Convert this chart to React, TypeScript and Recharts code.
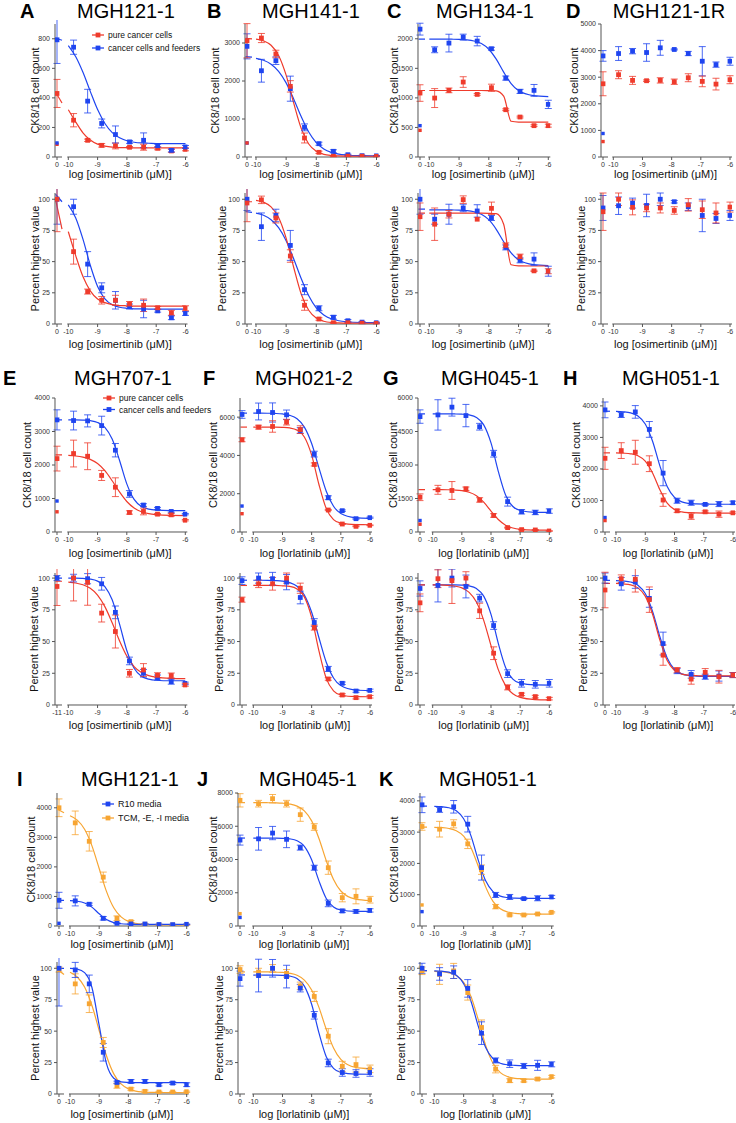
import React from "react";
import { ComposedChart, Line, Scatter, ErrorBar, XAxis, YAxis, ReferenceLine } from "recharts";

const RED = "#ef3b2c";
const BLUE = "#1f45f0";
const ORANGE = "#f7a532";
const FONT = '"Liberation Sans", Arial, Helvetica, sans-serif';

// log10 dose (M) of the 9 drug wells, 3-fold dilutions
const DOSES = [-9.82, -9.34, -8.86, -8.39, -7.91, -7.43, -6.95, -6.48, -6.0];
const FIT_X = [-10, -9.75, -9.5, -9.25, -9, -8.75, -8.5, -8.25, -8, -7.75, -7.5, -7.25, -7, -6.5, -6];
const PCT_TICKS = [0, 25, 50, 75, 100];

// zero arrays: [vehicle value, its error, low control value]

// A MGH121-1
const A_CNT_RED = [249, 113, 79, 75, 66, 66, 59, 41, 52];
const A_CNT_RED_ERR = [45, 8, 12, 20, 5, 20, 10, 10, 10];
const A_CNT_RED_ZERO = [430, 95, 86];
const A_CNT_RED_FIT = [320, 238, 164, 115, 87, 74, 67, 64, 63, 62, 62, 62, 62, 62, 62];
const A_CNT_RED_STUB = [440, 365];
const A_CNT_BLUE = [743, 378, 227, 152, 102, 113, 77, 45, 68];
const A_CNT_BLUE_ERR = [48, 80, 30, 58, 10, 50, 10, 10, 10];
const A_CNT_BLUE_ZERO = [793, 160, 95];
const A_CNT_BLUE_FIT = [754, 680, 573, 444, 321, 227, 165, 130, 110, 100, 95, 93, 91, 90, 90];
const A_CNT_BLUE_STUB = [805, 790];
const A_PCT_RED = [58, 26, 19, 19, 16, 15, 13, 9, 12.6];
const A_PCT_RED_ERR = [10, 2, 3, 4, 2, 5, 1, 2, 2];
const A_PCT_RED_ZERO = [100, 26];
const A_PCT_RED_FIT = [74, 55, 38, 26.6, 20.1, 17.1, 15.5, 14.8, 14.6, 14.4, 14.3, 14.3, 14.3, 14.3, 14.3];
const A_PCT_RED_STUB = [100, 76];
const A_PCT_BLUE = [94, 48, 29, 19, 14, 12, 10.5, 5, 8.4];
const A_PCT_BLUE_ERR = [6, 10, 4, 7, 2, 7, 1, 1.5, 1.5];
const A_PCT_BLUE_ZERO = [100, 20];
const A_PCT_BLUE_FIT = [95.5, 85.2, 68, 47.1, 30.1, 20.2, 15.4, 13.4, 12.6, 12.2, 12.1, 12, 12, 12, 12];
const A_PCT_BLUE_STUB = [104, 98];

// B MGH141-1
const B_CNT_RED = [3131, 2710, 1859, 500, 123, 18, 20, 20, 15];
const B_CNT_RED_ERR = [120, 100, 150, 130, 30, 10, 10, 10, 10];
const B_CNT_RED_ZERO = [3060, 450, 370];
const B_CNT_RED_FIT = [3102, 3056, 2940, 2673, 2154, 1423, 754, 343, 150, 70, 39, 27, 23, 20, 20];
const B_CNT_RED_STUB = [3120, 3110];
const B_CNT_BLUE = [2270, 2535, 1798, 780, 350, 150, 60, 35, 30];
const B_CNT_BLUE_ERR = [300, 100, 330, 90, 40, 40, 15, 10, 10];
const B_CNT_BLUE_ZERO = [2912, 330, 368];
const B_CNT_BLUE_FIT = [2597, 2545, 2441, 2254, 1950, 1527, 1063, 659, 380, 213, 122, 76, 53, 35, 31];
const B_CNT_BLUE_STUB = [2640, 2630];
const B_PCT_RED = [99.5, 85, 54.5, 15, 4, 1, 1, 0.7, 0.5];
const B_PCT_RED_ERR = [3, 4, 5, 4, 1, 0.5, 0.5, 0.5, 0.5];
const B_PCT_RED_ZERO = [97, 15];
const B_PCT_RED_FIT = [99.1, 97.6, 93.9, 85.4, 68.8, 45.5, 24.1, 11, 4.8, 2.2, 1.2, 0.9, 0.7, 0.6, 0.6];
const B_PCT_RED_STUB = [98, 98];
const B_PCT_BLUE = [78, 87, 63, 27.5, 12.6, 5.4, 2.6, 1.5, 1];
const B_PCT_BLUE_ERR = [11, 5, 12, 4, 2, 1.5, 1, 0.5, 0.5];
const B_PCT_BLUE_ZERO = [100, 9];
const B_PCT_BLUE_FIT = [88.9, 87.2, 83.6, 77.2, 66.8, 52.3, 36.4, 22.6, 13, 7.3, 4.2, 2.6, 1.8, 1.2, 1.1];
const B_PCT_BLUE_STUB = [90, 89.5];

// C MGH134-1
const C_CNT_RED = [997, 1127, 1268, 1059, 1172, 800, 676, 530, 530];
const C_CNT_RED_ERR = [160, 40, 90, 15, 60, 15, 15, 15, 25];
const C_CNT_RED_ZERO = [1082, 140, 451];
const C_CNT_RED_FIT = [1125, 1125, 1125, 1125, 1125, 1125, 1125, 1125, 1124, 1120, 1030, 605, 591, 590, 590];
const C_CNT_RED_STUB = [1125, 1125];
const C_CNT_BLUE = [1814, 1927, 2028, 1961, 1831, 1335, 1110, 1127, 890];
const C_CNT_BLUE_ERR = [50, 150, 50, 80, 25, 35, 35, 100, 70];
const C_CNT_BLUE_ZERO = [2163, 100, 530];
const C_CNT_BLUE_FIT = [1995, 1995, 1995, 1993, 1990, 1982, 1963, 1919, 1823, 1655, 1436, 1243, 1123, 1038, 1021];
const C_CNT_BLUE_STUB = [1995, 1995];
const C_PCT_RED = [80, 88, 99.7, 84, 92.7, 63, 54, 42.6, 42.3];
const C_PCT_RED_ERR = [13, 3, 3, 0, 5, 2, 2, 0.5, 2];
const C_PCT_RED_ZERO = [86, 11];
const C_PCT_RED_FIT = [88.8, 88.8, 88.8, 88.8, 88.8, 88.8, 88.8, 88.8, 88.7, 88.4, 80, 47.5, 46.6, 46.5, 46.5];
const C_PCT_RED_STUB = [88.8, 88.8];
const C_PCT_BLUE = [84, 88, 93, 90.6, 85, 61.4, 51, 52, 42.3];
const C_PCT_BLUE_ERR = [4, 8, 3, 5, 2, 2, 2, 5, 4];
const C_PCT_BLUE_ZERO = [100, 12];
const C_PCT_BLUE_FIT = [91.5, 91.5, 91.5, 91.4, 91.3, 90.9, 90, 88, 83.6, 75.9, 65.9, 57, 51.5, 47.6, 46.8];
const C_PCT_BLUE_STUB = [92, 92];

// D MGH121-1R (no fit)
const D_CNT_RED = [3094, 2880, 2867, 2880, 2830, 2980, 2842, 2740, 2905];
const D_CNT_RED_ERR = [150, 150, 30, 100, 100, 150, 200, 220, 150];
const D_CNT_RED_ZERO = [2753, 450, 581];
const D_CNT_BLUE = [3890, 3979, 3928, 4105, 4042, 3890, 3600, 3473, 3600];
const D_CNT_BLUE_ERR = [260, 100, 330, 280, 20, 80, 550, 100, 150];
const D_CNT_BLUE_ZERO = [3800, 200, 884];
const D_PCT_RED = [100, 93.5, 93, 93, 91, 95.5, 91.6, 89, 93.7];
const D_PCT_RED_ERR = [5, 6, 3, 4, 3, 5, 7, 8, 4];
const D_PCT_RED_ZERO = [90, 15];
const D_PCT_BLUE = [94.8, 96.9, 95, 100, 98, 94, 87, 84.6, 87];
const D_PCT_BLUE_ERR = [7, 4, 9, 5, 1, 3, 13, 4, 4];
const D_PCT_BLUE_ZERO = [93, 10];

// E MGH707-1
const E_CNT_RED = [2342, 2261, 1688, 1337, 583, 613, 533, 513, 352];
const E_CNT_RED_ERR = [400, 400, 150, 280, 50, 100, 20, 40, 20];
const E_CNT_RED_ZERO = [2191, 370, 603];
const E_CNT_RED_FIT = [2285, 2269, 2235, 2168, 2043, 1830, 1529, 1196, 910, 716, 604, 546, 517, 495, 491];
const E_CNT_RED_STUB = [2300, 2300];
const E_CNT_BLUE = [3327, 3317, 3176, 2442, 1136, 804, 704, 613, 533];
const E_CNT_BLUE_ERR = [280, 180, 280, 200, 100, 40, 30, 25, 20];
const E_CNT_BLUE_ZERO = [3347, 300, 925];
const E_CNT_BLUE_FIT = [3350, 3349, 3341, 3323, 3271, 3126, 2776, 2142, 1437, 972, 761, 682, 654, 641, 640];
const E_CNT_BLUE_STUB = [3350, 3350];
const E_PCT_RED = [100, 96.6, 72.4, 57.9, 25, 27.6, 23.4, 23.2, 15.8];
const E_PCT_RED_ERR = [18, 18, 7, 13, 3, 5, 2, 2, 1];
const E_PCT_RED_ZERO = [93.4, 15];
const E_PCT_RED_FIT = [96.8, 96.1, 94.7, 91.9, 86.6, 77.5, 64.8, 50.7, 38.6, 30.3, 25.6, 23.1, 21.9, 21, 20.8];
const E_PCT_RED_STUB = [97.5, 97.5];
const E_PCT_BLUE = [100, 99.5, 95.5, 73, 34.7, 25, 21.6, 18.4, 17];
const E_PCT_BLUE_ERR = [3, 4, 5, 5, 3, 3, 2, 2, 1];
const E_PCT_BLUE_ZERO = [100, 2];
const E_PCT_BLUE_FIT = [100, 100, 99.7, 99.2, 97.6, 93.3, 82.9, 63.9, 42.9, 29, 22.7, 20.4, 19.5, 19.1, 19.1];
const E_PCT_BLUE_STUB = [100, 100];

// F MGH021-2
const F_CNT_RED = [5478, 5513, 5739, 5350, 3530, 1148, 417, 296, 350];
const F_CNT_RED_ERR = [100, 300, 150, 200, 80, 30, 20, 20, 20];
const F_CNT_RED_ZERO = [4817, 100, 956];
const F_CNT_RED_FIT = [5480, 5480, 5480, 5480, 5467, 5435, 5322, 4961, 4016, 2481, 1222, 650, 459, 382, 380];
const F_CNT_RED_STUB = [5480, 5480];
const F_CNT_BLUE = [6295, 6243, 6121, 5304, 4069, 1791, 1113, 696, 748];
const F_CNT_BLUE_ERR = [440, 500, 250, 150, 150, 100, 40, 30, 30];
const F_CNT_BLUE_ZERO = [6139, 200, 1356];
const F_CNT_BLUE_FIT = [6210, 6210, 6204, 6193, 6166, 6094, 5912, 5480, 4622, 3350, 2129, 1346, 967, 748, 713];
const F_CNT_BLUE_STUB = [6210, 6210];
const F_PCT_RED = [95.5, 95.5, 100, 92, 61, 20.5, 7.9, 5.8, 6.5];
const F_PCT_RED_ERR = [3, 5, 4, 4, 2, 1, 1, 1, 1];
const F_PCT_RED_ZERO = [83, 2];
const F_PCT_RED_FIT = [94.2, 94.2, 94.2, 94.2, 93.9, 93.4, 91.4, 85.2, 69, 42.6, 21, 11.2, 7.9, 6.6, 6.5];
const F_PCT_RED_STUB = [94.2, 94.2];
const F_PCT_BLUE = [100, 99.5, 96.8, 84.7, 65, 28.4, 17.1, 11, 11.5];
const F_PCT_BLUE_ERR = [4, 5, 6, 5, 3, 2, 1, 1, 1];
const F_PCT_BLUE_ZERO = [98, 3];
const F_PCT_BLUE_FIT = [98.3, 98.3, 98.2, 98, 97.6, 96.4, 93.5, 86.7, 73.1, 53, 33.7, 21.3, 15.3, 11.8, 11.3];
const F_PCT_BLUE_STUB = [98.3, 98.3];

// G MGH045-1
const G_CNT_RED = [1889, 1859, 1934, 1435, 740, 196, 106, 91, 45];
const G_CNT_RED_ERR = [200, 400, 80, 100, 80, 20, 15, 15, 10];
const G_CNT_RED_ZERO = [1556, 150, 348];
const G_CNT_RED_FIT = [1900, 1897, 1892, 1880, 1851, 1780, 1627, 1339, 939, 559, 306, 177, 120, 86, 81];
const G_CNT_RED_STUB = [1900, 1900];
const G_CNT_BLUE = [5243, 5590, 5213, 4714, 3505, 1360, 907, 876, 937];
const G_CNT_BLUE_ERR = [680, 400, 500, 150, 150, 200, 100, 100, 100];
const G_CNT_BLUE_ZERO = [5168, 300, 514];
const G_CNT_BLUE_FIT = [5290, 5290, 5290, 5286, 5275, 5241, 5131, 4796, 3989, 2715, 1653, 1142, 962, 882, 880];
const G_CNT_BLUE_STUB = [5290, 5290];
const G_PCT_RED = [99.5, 98, 100, 74.2, 40.8, 13.9, 8.4, 6.6, 5];
const G_PCT_RED_ERR = [7, 18, 5, 6, 5, 2, 1, 1, 1];
const G_PCT_RED_ZERO = [80.5, 7];
const G_PCT_RED_FIT = [94.7, 94.6, 94.3, 93.7, 92.3, 88.7, 81.1, 66.7, 46.8, 27.9, 15.3, 8.8, 6, 4.3, 4];
const G_PCT_RED_STUB = [94.7, 94.7];
const G_PCT_BLUE = [94.2, 100, 93.4, 84.2, 62.6, 24.7, 17.1, 16.3, 17.1];
const G_PCT_BLUE_ERR = [13, 7, 9, 3, 3, 3, 3, 3, 3];
const G_PCT_BLUE_ZERO = [91.8, 6];
const G_PCT_BLUE_FIT = [94.6, 94.6, 94.6, 94.6, 94.4, 93.8, 91.8, 85.8, 71.4, 48.6, 29.6, 20.4, 17.2, 15.8, 15.7];
const G_PCT_BLUE_STUB = [94.7, 94.7];

// H MGH051-1
const H_CNT_RED = [2582, 2529, 2166, 1014, 672, 501, 640, 566, 608];
const H_CNT_RED_ERR = [250, 380, 250, 200, 50, 100, 30, 100, 30];
const H_CNT_RED_ZERO = [2337, 350, 363];
const H_CNT_RED_FIT = [2510, 2500, 2480, 2419, 2248, 1872, 1339, 918, 713, 637, 612, 604, 601, 600, 600];
const H_CNT_RED_STUB = [2510, 2510];
const H_CNT_BLUE = [3713, 3809, 3254, 1867, 992, 928, 875, 886, 928];
const H_CNT_BLUE_ERR = [80, 200, 250, 400, 80, 80, 30, 80, 50];
const H_CNT_BLUE_ZERO = [3873, 250, 459];
const H_CNT_BLUE_FIT = [3824, 3812, 3778, 3680, 3426, 2880, 2098, 1443, 1097, 956, 906, 889, 883, 880, 880];
const H_CNT_BLUE_STUB = [3830, 3830];
const H_PCT_RED = [99.5, 99, 83, 39.3, 27.5, 20.4, 25.7, 22.3, 23.6];
const H_PCT_RED_ERR = [3, 10, 10, 8, 2, 4, 3, 5, 2];
const H_PCT_RED_ZERO = [90.6, 14];
const H_PCT_RED_FIT = [95.8, 95.4, 94.7, 92.3, 85.8, 71.5, 51.1, 35, 27.2, 24.3, 23.4, 23.1, 22.9, 22.9, 22.9];
const H_PCT_RED_STUB = [95.8, 95.8];
const H_PCT_BLUE = [95.5, 96.9, 84, 48.4, 26.7, 24.1, 22.3, 22.8, 23.6];
const H_PCT_BLUE_ERR = [5, 5, 7, 9, 2, 3, 2, 4, 2];
const H_PCT_BLUE_ZERO = [100, 4];
const H_PCT_BLUE_FIT = [98, 97.7, 96.9, 94.4, 87.8, 73.8, 53.8, 37, 28.1, 24.5, 23.2, 22.8, 22.6, 22.6, 22.6];
const H_PCT_BLUE_STUB = [98.2, 98.2];

// I MGH121-1 media
const I_CNT_BLUE = [850, 736, 261, 91, 68, 68, 50, 45, 57];
const I_CNT_BLUE_ERR = [170, 40, 60, 15, 10, 10, 10, 10, 10];
const I_CNT_BLUE_ZERO = [870, 270, 91];
const I_CNT_BLUE_FIT = [860, 839, 779, 638, 416, 218, 115, 75, 61, 57, 56, 55, 55, 55, 55];
const I_CNT_BLUE_STUB = [870, 868];
const I_CNT_ORANGE = [3490, 2866, 1654, 261, 147, 57, 34, 34, 34];
const I_CNT_ORANGE_ERR = [400, 330, 170, 80, 40, 10, 10, 10, 10];
const I_CNT_ORANGE_ZERO = [4000, 300];
const I_CNT_ORANGE_FIT = [3732, 3584, 3275, 2719, 1945, 1172, 615, 307, 157, 90, 61, 50, 45, 41, 40];
const I_CNT_ORANGE_STUB = [3950, 3830];
const I_PCT_BLUE = [98.7, 87.6, 33.2, 9.2, 10, 10, 7.4, 8.7, 7.4];
const I_PCT_BLUE_ERR = [6, 7, 7, 1, 1.5, 1.5, 1, 1, 1.5];
const I_PCT_BLUE_ZERO = [100, 30];
const I_PCT_BLUE_FIT = [99.9, 99.3, 96.5, 84.9, 54.5, 24.1, 12.5, 9.7, 9.2, 9, 9, 9, 9, 9, 9];
const I_PCT_BLUE_STUB = [100, 100];
const I_PCT_ORANGE = [87.6, 71.8, 41, 6.6, 3.9, 2.1, 1.6, 1.6, 1.8];
const I_PCT_ORANGE_ERR = [8, 7, 4, 2, 1, 1, 0.5, 0.5, 0.5];
const I_PCT_ORANGE_ZERO = [99, 2];
const I_PCT_ORANGE_FIT = [96.9, 93.1, 85.1, 70.6, 50.5, 30.4, 16, 8, 4.1, 2.3, 1.6, 1.3, 1.2, 1.1, 1];
const I_PCT_ORANGE_STUB = [99, 95];

// J MGH045-1 media (R10 = same wells as G blue)
const J_CNT_ORANGE = [7358, 7659, 7358, 6697, 5955, 3509, 1704, 1784, 1580];
const J_CNT_ORANGE_ERR = [200, 250, 200, 400, 200, 400, 250, 450, 200];
const J_CNT_ORANGE_ZERO = [7559, 400, 742];
const J_CNT_ORANGE_FIT = [7420, 7420, 7415, 7406, 7386, 7335, 7213, 6924, 6323, 5267, 3933, 2794, 2104, 1620, 1535];
const J_CNT_ORANGE_STUB = [7420, 7420];
const J_PCT_ORANGE = [97, 100, 96, 86, 77.6, 46, 22, 23.4, 20];
const J_PCT_ORANGE_ERR = [3, 3, 3, 3, 4, 6, 4, 6, 3];
const J_PCT_ORANGE_ZERO = [99, 3];
const J_PCT_ORANGE_FIT = [97.1, 97.1, 97.1, 96.9, 96.7, 96, 94.4, 90.6, 82.8, 68.9, 51.5, 36.6, 27.5, 21.2, 20.1];
const J_PCT_ORANGE_STUB = [97.1, 97.1];

// K MGH051-1 media (R10 = same wells as H blue)
const K_CNT_ORANGE = [3094, 3265, 2625, 1800, 619, 352, 352, 384, 437];
const K_CNT_ORANGE_ERR = [250, 130, 150, 150, 70, 30, 20, 20, 20];
const K_CNT_ORANGE_ZERO = [3180, 120, 672];
const K_CNT_ORANGE_FIT = [3154, 3143, 3115, 3043, 2871, 2504, 1906, 1250, 788, 548, 446, 405, 390, 381, 380];
const K_CNT_ORANGE_STUB = [3160, 3160];
const K_PCT_ORANGE = [95.2, 97.9, 80.7, 52.9, 19.8, 10.6, 10.6, 11.9, 13.8];
const K_PCT_ORANGE_ERR = [8, 6, 6, 6, 3, 1.5, 1, 1, 1];
const K_PCT_ORANGE_ZERO = [98, 3];
const K_PCT_ORANGE_FIT = [97.6, 97.3, 96.4, 94.2, 88.9, 77.5, 59, 38.7, 24.4, 17, 13.8, 12.5, 12.1, 11.8, 11.8];
const K_PCT_ORANGE_STUB = [97.9, 97.9];

type Series = { color: string; y: number[]; err: number[]; zero: number[]; fit?: number[]; stub?: number[] };
type Geo = { axisX: number; x10: number; x6: number };
type Row = { top: number; bottom: number };

const ser = (color: string, y: number[], err: number[], zero: number[], fit?: number[], stub?: number[]): Series =>
  ({ color, y, err, zero, fit, stub });

// layout: pixel positions of y axis, x=-10 and x=-6 per column
const GEO: Record<string, Geo> = {
  A: { axisX: 55, x10: 68.3, x6: 185.5 },
  B: { axisX: 245, x10: 256, x6: 376.5 },
  C: { axisX: 418, x10: 429.3, x6: 548.3 },
  D: { axisX: 601, x10: 613.3, x6: 730 },
  E: { axisX: 55, x10: 68.3, x6: 185.3 },
  F: { axisX: 240, x10: 253.3, x6: 370 },
  G: { axisX: 418, x10: 432.7, x6: 549.3 },
  H: { axisX: 603, x10: 616, x6: 733 },
  I: { axisX: 57, x10: 70, x6: 186.7 },
  J: { axisX: 238, x10: 253.3, x6: 370 },
  K: { axisX: 420, x10: 434.3, x6: 551.7 },
};
const R1C = { top: 24, bottom: 157 };
const R1P = { top: 193, bottom: 324 };
const R2C = { top: 398, bottom: 532 };
const R2P = { top: 573, bottom: 705 };
const R3C = { top: 793, bottom: 926 };
const R3P = { top: 962, bottom: 1094 };

const square = (color: string) => (p: any) => {
  const h = p.payload.small ? 1.7 : 2.4;
  return <rect x={p.cx - h} y={p.cy - h} width={h * 2} height={h * 2} fill={color} />;
};

function Plot({ geo, row, yMax, yTicks, series, zeroLabel = "0" }:
  { geo: Geo; row: Row; yMax: number; yTicks: number[]; series: Series[]; zeroLabel?: string }) {
  const s = (geo.x6 - geo.x10) / 4;
  const right = geo.x6 + 2;
  const toX = (px: number) => -10 + (px - geo.x10) / s;
  const dMin = toX(geo.axisX);
  const dMax = toX(right);
  const zeroX = toX(geo.axisX + 2);
  const YW = 30, MT = 4, MR = 3, XH = 16;
  const plotH = row.bottom - row.top;
  const width = YW + (right - geo.axisX) + MR;
  const height = MT + plotH + XH;
  const fmt = (v: number) => (v < -10.1 ? zeroLabel : String(v));

  return (
    <div style={{ position: "absolute", left: geo.axisX - YW, top: row.top - MT }}>
      <ComposedChart width={width} height={height} margin={{ top: MT, right: MR, bottom: 0, left: 0 }}
        style={{ overflow: "visible" }}>
        <XAxis type="number" dataKey="x" domain={[dMin, dMax]} allowDataOverflow ticks={[zeroX, -10, -9, -8, -7, -6]}
          tickFormatter={fmt} interval={0} axisLine={false} tickSize={3} height={XH}
          tickLine={{ stroke: "#555" }} tick={{ fontSize: 7, fill: "#333", fontFamily: FONT }} />
        <YAxis type="number" dataKey="y" domain={[0, yMax]} allowDataOverflow ticks={yTicks} interval={0} width={YW}
          tickSize={3} axisLine={{ stroke: "#555" }} tickLine={{ stroke: "#555" }}
          tick={{ fontSize: 7, fill: "#333", fontFamily: FONT }} />
        <ReferenceLine segment={[{ x: dMin, y: 0 }, { x: toX(geo.axisX + 7), y: 0 }]} stroke="#555" ifOverflow="visible" />
        <ReferenceLine segment={[{ x: toX(geo.x10 - 1), y: 0 }, { x: dMax, y: 0 }]} stroke="#555" ifOverflow="visible" />
        {series.map((sr, k) => sr.fit && (
          <Line key={"f" + k} data={FIT_X.map((x, i) => ({ x, y: sr.fit![i] }))} dataKey="y" type="monotone"
            dot={false} stroke={sr.color} strokeWidth={1.2} isAnimationActive={false} />
        ))}
        {series.map((sr, k) => sr.stub && (
          <Line key={"s" + k} data={[{ x: toX(geo.axisX + 0.5), y: sr.stub[0] }, { x: toX(geo.axisX + 7), y: sr.stub[1] }]}
            dataKey="y" type="monotone" dot={false} stroke={sr.color} strokeWidth={1.2} isAnimationActive={false} />
        ))}
        {series.map((sr, k) => {
          const pts: any[] = DOSES.map((x, i) => ({ x, y: sr.y[i], e: sr.err[i] }));
          pts.push({ x: zeroX, y: sr.zero[0], e: sr.zero[1] });
          if (sr.zero.length > 2) pts.push({ x: zeroX, y: sr.zero[2], e: 0, small: true });
          return (
            <Scatter key={"p" + k} data={pts} dataKey="y" shape={square(sr.color)} isAnimationActive={false}>
              <ErrorBar dataKey="e" direction="y" width={3.5} stroke={sr.color} strokeWidth={1} strokeOpacity={0.8} />
            </Scatter>
          );
        })}
      </ComposedChart>
    </div>
  );
}

const CNT = (max: number, step: number) => {
  const t: number[] = [];
  for (let v = 0; v <= max; v += step) t.push(v);
  return t;
};

type TextSpec = { panel: string; drug: string; row: Row; xt: number; off: number; count: boolean };

export default function App() {
  const xTitles: TextSpec[] = [
    { panel: "A", drug: "osimertinib", row: R1C, xt: 178, off: 20, count: true },
    { panel: "B", drug: "osimertinib", row: R1C, xt: 178, off: 30, count: true },
    { panel: "C", drug: "osimertinib", row: R1C, xt: 178, off: 24, count: true },
    { panel: "D", drug: "osimertinib", row: R1C, xt: 178, off: 27, count: true },
    { panel: "A", drug: "osimertinib", row: R1P, xt: 348, off: 20, count: false },
    { panel: "B", drug: "osimertinib", row: R1P, xt: 348, off: 23, count: false },
    { panel: "C", drug: "osimertinib", row: R1P, xt: 348, off: 24, count: false },
    { panel: "D", drug: "osimertinib", row: R1P, xt: 348, off: 20, count: false },
    { panel: "E", drug: "osimertinib", row: R2C, xt: 557, off: 28, count: true },
    { panel: "F", drug: "lorlatinib", row: R2C, xt: 557, off: 27, count: true },
    { panel: "G", drug: "lorlatinib", row: R2C, xt: 557, off: 25, count: true },
    { panel: "H", drug: "lorlatinib", row: R2C, xt: 557, off: 27, count: true },
    { panel: "E", drug: "osimertinib", row: R2P, xt: 729, off: 21, count: false },
    { panel: "F", drug: "lorlatinib", row: R2P, xt: 729, off: 21, count: false },
    { panel: "G", drug: "lorlatinib", row: R2P, xt: 729, off: 19, count: false },
    { panel: "H", drug: "lorlatinib", row: R2P, xt: 729, off: 20, count: false },
    { panel: "I", drug: "osimertinib", row: R3C, xt: 948, off: 26, count: true },
    { panel: "J", drug: "lorlatinib", row: R3C, xt: 948, off: 25, count: true },
    { panel: "K", drug: "lorlatinib", row: R3C, xt: 948, off: 26, count: true },
    { panel: "I", drug: "osimertinib", row: R3P, xt: 1118, off: 22, count: false },
    { panel: "J", drug: "lorlatinib", row: R3P, xt: 1118, off: 19, count: false },
    { panel: "K", drug: "lorlatinib", row: R3P, xt: 1118, off: 19, count: false },
  ];
  const heads = [
    { l: "A", lx: 20, t: "MGH121-1", tx: 126, y: 18 },
    { l: "B", lx: 207, t: "MGH141-1", tx: 311, y: 18 },
    { l: "C", lx: 387, t: "MGH134-1", tx: 485, y: 18 },
    { l: "D", lx: 566, t: "MGH121-1R", tx: 669, y: 18 },
    { l: "E", lx: 3, t: "MGH707-1", tx: 123, y: 385 },
    { l: "F", lx: 203, t: "MGH021-2", tx: 304, y: 385 },
    { l: "G", lx: 383, t: "MGH045-1", tx: 490, y: 385 },
    { l: "H", lx: 563, t: "MGH051-1", tx: 671, y: 385 },
    { l: "I", lx: 17, t: "MGH121-1", tx: 130, y: 786 },
    { l: "J", lx: 197, t: "MGH045-1", tx: 308, y: 786 },
    { l: "K", lx: 379, t: "MGH051-1", tx: 488, y: 786 },
  ];
  const legends = [
    { x: 92, y: 35, fs: 8.5, items: [[RED, "pure cancer cells"], [BLUE, "cancer cells and feeders"]], gap: 13 },
    { x: 103, y: 398, fs: 8.5, items: [[RED, "pure cancer cells"], [BLUE, "cancer cells and feeders"]], gap: 11.5 },
    { x: 102, y: 804, fs: 9, items: [[BLUE, "R10 media"], [ORANGE, "TCM, -E, -I media"]], gap: 14 },
  ];

  return (
    <div style={{ position: "absolute", left: 0, top: 0, width: 736, height: 1123, overflow: "hidden",
      background: "#fff", fontFamily: FONT }}>
      {/* row 1 */}
      <Plot geo={GEO.A} row={R1C} yMax={900} yTicks={CNT(800, 200)} series={[
        ser(RED, A_CNT_RED, A_CNT_RED_ERR, A_CNT_RED_ZERO, A_CNT_RED_FIT, A_CNT_RED_STUB),
        ser(BLUE, A_CNT_BLUE, A_CNT_BLUE_ERR, A_CNT_BLUE_ZERO, A_CNT_BLUE_FIT, A_CNT_BLUE_STUB)]} />
      <Plot geo={GEO.B} row={R1C} yMax={3500} yTicks={CNT(3000, 1000)} series={[
        ser(BLUE, B_CNT_BLUE, B_CNT_BLUE_ERR, B_CNT_BLUE_ZERO, B_CNT_BLUE_FIT, B_CNT_BLUE_STUB),
        ser(RED, B_CNT_RED, B_CNT_RED_ERR, B_CNT_RED_ZERO, B_CNT_RED_FIT, B_CNT_RED_STUB)]} />
      <Plot geo={GEO.C} row={R1C} yMax={2250} yTicks={CNT(2000, 500)} series={[
        ser(BLUE, C_CNT_BLUE, C_CNT_BLUE_ERR, C_CNT_BLUE_ZERO, C_CNT_BLUE_FIT, C_CNT_BLUE_STUB),
        ser(RED, C_CNT_RED, C_CNT_RED_ERR, C_CNT_RED_ZERO, C_CNT_RED_FIT, C_CNT_RED_STUB)]} />
      <Plot geo={GEO.D} row={R1C} yMax={5000} yTicks={CNT(5000, 1000)} series={[
        ser(BLUE, D_CNT_BLUE, D_CNT_BLUE_ERR, D_CNT_BLUE_ZERO),
        ser(RED, D_CNT_RED, D_CNT_RED_ERR, D_CNT_RED_ZERO)]} />
      <Plot geo={GEO.A} row={R1P} yMax={105} yTicks={PCT_TICKS} series={[
        ser(BLUE, A_PCT_BLUE, A_PCT_BLUE_ERR, A_PCT_BLUE_ZERO, A_PCT_BLUE_FIT, A_PCT_BLUE_STUB),
        ser(RED, A_PCT_RED, A_PCT_RED_ERR, A_PCT_RED_ZERO, A_PCT_RED_FIT, A_PCT_RED_STUB)]} />
      <Plot geo={GEO.B} row={R1P} yMax={105} yTicks={PCT_TICKS} series={[
        ser(BLUE, B_PCT_BLUE, B_PCT_BLUE_ERR, B_PCT_BLUE_ZERO, B_PCT_BLUE_FIT, B_PCT_BLUE_STUB),
        ser(RED, B_PCT_RED, B_PCT_RED_ERR, B_PCT_RED_ZERO, B_PCT_RED_FIT, B_PCT_RED_STUB)]} />
      <Plot geo={GEO.C} row={R1P} yMax={105} yTicks={PCT_TICKS} series={[
        ser(BLUE, C_PCT_BLUE, C_PCT_BLUE_ERR, C_PCT_BLUE_ZERO, C_PCT_BLUE_FIT, C_PCT_BLUE_STUB),
        ser(RED, C_PCT_RED, C_PCT_RED_ERR, C_PCT_RED_ZERO, C_PCT_RED_FIT, C_PCT_RED_STUB)]} />
      <Plot geo={GEO.D} row={R1P} yMax={105} yTicks={PCT_TICKS} series={[
        ser(BLUE, D_PCT_BLUE, D_PCT_BLUE_ERR, D_PCT_BLUE_ZERO),
        ser(RED, D_PCT_RED, D_PCT_RED_ERR, D_PCT_RED_ZERO)]} />
      {/* row 2 */}
      <Plot geo={GEO.E} row={R2C} yMax={4000} yTicks={CNT(4000, 1000)} series={[
        ser(BLUE, E_CNT_BLUE, E_CNT_BLUE_ERR, E_CNT_BLUE_ZERO, E_CNT_BLUE_FIT, E_CNT_BLUE_STUB),
        ser(RED, E_CNT_RED, E_CNT_RED_ERR, E_CNT_RED_ZERO, E_CNT_RED_FIT, E_CNT_RED_STUB)]} />
      <Plot geo={GEO.F} row={R2C} yMax={7000} yTicks={CNT(6000, 2000)} series={[
        ser(BLUE, F_CNT_BLUE, F_CNT_BLUE_ERR, F_CNT_BLUE_ZERO, F_CNT_BLUE_FIT, F_CNT_BLUE_STUB),
        ser(RED, F_CNT_RED, F_CNT_RED_ERR, F_CNT_RED_ZERO, F_CNT_RED_FIT, F_CNT_RED_STUB)]} />
      <Plot geo={GEO.G} row={R2C} yMax={6000} yTicks={CNT(6000, 1500)} series={[
        ser(BLUE, G_CNT_BLUE, G_CNT_BLUE_ERR, G_CNT_BLUE_ZERO, G_CNT_BLUE_FIT, G_CNT_BLUE_STUB),
        ser(RED, G_CNT_RED, G_CNT_RED_ERR, G_CNT_RED_ZERO, G_CNT_RED_FIT, G_CNT_RED_STUB)]} />
      <Plot geo={GEO.H} row={R2C} yMax={4250} yTicks={CNT(4000, 1000)} series={[
        ser(BLUE, H_CNT_BLUE, H_CNT_BLUE_ERR, H_CNT_BLUE_ZERO, H_CNT_BLUE_FIT, H_CNT_BLUE_STUB),
        ser(RED, H_CNT_RED, H_CNT_RED_ERR, H_CNT_RED_ZERO, H_CNT_RED_FIT, H_CNT_RED_STUB)]} />
      <Plot geo={GEO.E} row={R2P} yMax={104} yTicks={PCT_TICKS} zeroLabel="-11" series={[
        ser(BLUE, E_PCT_BLUE, E_PCT_BLUE_ERR, E_PCT_BLUE_ZERO, E_PCT_BLUE_FIT, E_PCT_BLUE_STUB),
        ser(RED, E_PCT_RED, E_PCT_RED_ERR, E_PCT_RED_ZERO, E_PCT_RED_FIT, E_PCT_RED_STUB)]} />
      <Plot geo={GEO.F} row={R2P} yMax={104} yTicks={PCT_TICKS} series={[
        ser(BLUE, F_PCT_BLUE, F_PCT_BLUE_ERR, F_PCT_BLUE_ZERO, F_PCT_BLUE_FIT, F_PCT_BLUE_STUB),
        ser(RED, F_PCT_RED, F_PCT_RED_ERR, F_PCT_RED_ZERO, F_PCT_RED_FIT, F_PCT_RED_STUB)]} />
      <Plot geo={GEO.G} row={R2P} yMax={104} yTicks={PCT_TICKS} series={[
        ser(BLUE, G_PCT_BLUE, G_PCT_BLUE_ERR, G_PCT_BLUE_ZERO, G_PCT_BLUE_FIT, G_PCT_BLUE_STUB),
        ser(RED, G_PCT_RED, G_PCT_RED_ERR, G_PCT_RED_ZERO, G_PCT_RED_FIT, G_PCT_RED_STUB)]} />
      <Plot geo={GEO.H} row={R2P} yMax={104} yTicks={PCT_TICKS} series={[
        ser(BLUE, H_PCT_BLUE, H_PCT_BLUE_ERR, H_PCT_BLUE_ZERO, H_PCT_BLUE_FIT, H_PCT_BLUE_STUB),
        ser(RED, H_PCT_RED, H_PCT_RED_ERR, H_PCT_RED_ZERO, H_PCT_RED_FIT, H_PCT_RED_STUB)]} />
      {/* row 3 */}
      <Plot geo={GEO.I} row={R3C} yMax={4500} yTicks={CNT(4000, 1000)} series={[
        ser(ORANGE, I_CNT_ORANGE, I_CNT_ORANGE_ERR, I_CNT_ORANGE_ZERO, I_CNT_ORANGE_FIT, I_CNT_ORANGE_STUB),
        ser(BLUE, I_CNT_BLUE, I_CNT_BLUE_ERR, I_CNT_BLUE_ZERO, I_CNT_BLUE_FIT, I_CNT_BLUE_STUB)]} />
      <Plot geo={GEO.J} row={R3C} yMax={8000} yTicks={CNT(8000, 2000)} series={[
        ser(ORANGE, J_CNT_ORANGE, J_CNT_ORANGE_ERR, J_CNT_ORANGE_ZERO, J_CNT_ORANGE_FIT, J_CNT_ORANGE_STUB),
        ser(BLUE, G_CNT_BLUE, G_CNT_BLUE_ERR, G_CNT_BLUE_ZERO, G_CNT_BLUE_FIT, G_CNT_BLUE_STUB)]} />
      <Plot geo={GEO.K} row={R3C} yMax={4250} yTicks={CNT(4000, 1000)} series={[
        ser(ORANGE, K_CNT_ORANGE, K_CNT_ORANGE_ERR, K_CNT_ORANGE_ZERO, K_CNT_ORANGE_FIT, K_CNT_ORANGE_STUB),
        ser(BLUE, H_CNT_BLUE, H_CNT_BLUE_ERR, H_CNT_BLUE_ZERO, H_CNT_BLUE_FIT, H_CNT_BLUE_STUB)]} />
      <Plot geo={GEO.I} row={R3P} yMax={105} yTicks={PCT_TICKS} series={[
        ser(ORANGE, I_PCT_ORANGE, I_PCT_ORANGE_ERR, I_PCT_ORANGE_ZERO, I_PCT_ORANGE_FIT, I_PCT_ORANGE_STUB),
        ser(BLUE, I_PCT_BLUE, I_PCT_BLUE_ERR, I_PCT_BLUE_ZERO, I_PCT_BLUE_FIT, I_PCT_BLUE_STUB)]} />
      <Plot geo={GEO.J} row={R3P} yMax={105} yTicks={PCT_TICKS} series={[
        ser(ORANGE, J_PCT_ORANGE, J_PCT_ORANGE_ERR, J_PCT_ORANGE_ZERO, J_PCT_ORANGE_FIT, J_PCT_ORANGE_STUB),
        ser(BLUE, G_PCT_BLUE, G_PCT_BLUE_ERR, G_PCT_BLUE_ZERO, G_PCT_BLUE_FIT, G_PCT_BLUE_STUB)]} />
      <Plot geo={GEO.K} row={R3P} yMax={105} yTicks={PCT_TICKS} series={[
        ser(ORANGE, K_PCT_ORANGE, K_PCT_ORANGE_ERR, K_PCT_ORANGE_ZERO, K_PCT_ORANGE_FIT, K_PCT_ORANGE_STUB),
        ser(BLUE, H_PCT_BLUE, H_PCT_BLUE_ERR, H_PCT_BLUE_ZERO, H_PCT_BLUE_FIT, H_PCT_BLUE_STUB)]} />

      <svg width={736} height={1123} style={{ position: "absolute", left: 0, top: 0, pointerEvents: "none" }}
        fontFamily={FONT}>
        {heads.map((h) => (
          <g key={h.l}>
            <text x={h.lx} y={h.y} fontSize={20} fontWeight="bold" fill="#000">{h.l}</text>
            <text x={h.tx} y={h.y} fontSize={20} textAnchor="middle" fill="#000">{h.t}</text>
          </g>
        ))}
        {xTitles.map((t, i) => {
          const g = GEO[t.panel];
          const cy = (t.row.top + t.row.bottom) / 2;
          const bx = g.axisX - t.off + 4;
          return (
            <g key={i}>
              <text x={(g.axisX + g.x6) / 2} y={t.xt} fontSize={11} textAnchor="middle" fill="#111">
                {`log [${t.drug} (μM)]`}
              </text>
              <text x={bx} y={cy} fontSize={11} textAnchor="middle" fill="#111" transform={`rotate(-90 ${bx} ${cy})`}>
                {t.count ? "CK8/18 cell count" : "Percent highest value"}
              </text>
            </g>
          );
        })}
        {legends.map((lg, i) => (
          <g key={i}>
            {lg.items.map(([c, label], k) => {
              const y = lg.y + k * lg.gap;
              return (
                <g key={k}>
                  <line x1={lg.x} x2={lg.x + 12} y1={y} y2={y} stroke={c} strokeWidth={1.3} />
                  <rect x={lg.x + 3.6} y={y - 2.4} width={4.8} height={4.8} fill={c} />
                  <text x={lg.x + 16} y={y + 3} fontSize={lg.fs} fill="#111">{label}</text>
                </g>
              );
            })}
          </g>
        ))}
      </svg>
    </div>
  );
}
